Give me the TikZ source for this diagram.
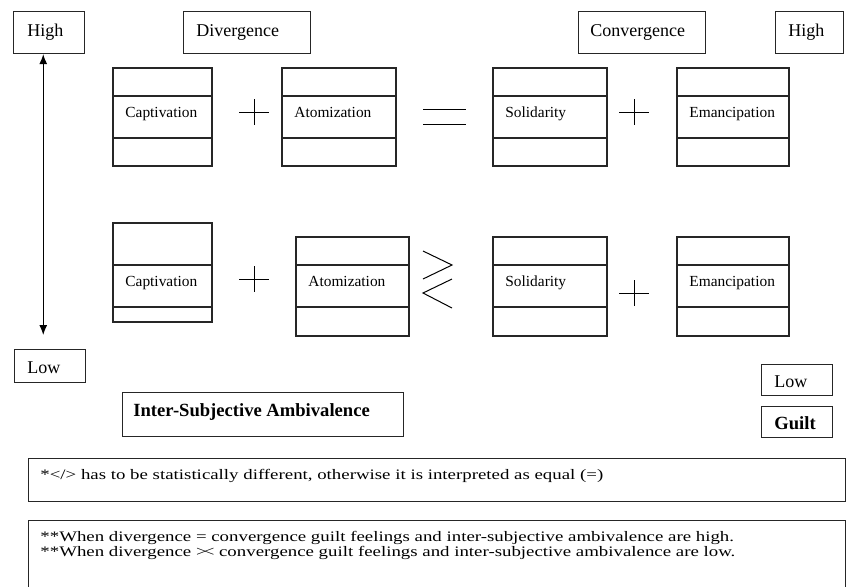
\documentclass[tikz,border=0pt]{standalone}
\usepackage{fontspec}
\setmainfont{Liberation Serif}
\newfontfamily\notefont[FakeStretch=1.3]{Liberation Serif}
\usetikzlibrary{arrows.meta}

% frame box with a text line inside: name, x1, y1, x2, y2, text x, baseline, style, text
\newcommand{\tagbox}[9]{%
  \node[frame, anchor=north west, minimum width={(#4-#2)*0.5pt}, minimum height={(#5-#3)*0.5pt}] (#1) at (#2,#3) {};
  \node[#8, anchor=base west] (#1-txt) at (#6,#7) {#9};
}
% three-part box: name, left, right, top, div1, div2, bottom, label
\newcommand{\cellbox}[8]{%
  \draw[frame] (#2,#4) rectangle (#3,#7);
  \draw[frame] (#2,#5) -- (#3,#5) (#2,#6) -- (#3,#6);
  \node[celltext, anchor=base west] (#1) at ({#2+12},{(#5+#6)/2}) {#8};
}
\newcommand{\plusmark}[2]{%
  \draw[sym] ({#1-15},#2) -- ({#1+15},#2) (#1,{#2-13}) -- (#1,{#2+13});
}

\begin{document}
\begin{tikzpicture}[x=0.5pt, y=-0.5pt,
    frame/.style={draw=black!85, line width=0.55pt, inner sep=0pt},
    lab/.style={inner sep=0pt, font=\fontsize{9}{11}\selectfont},
    labbf/.style={inner sep=0pt, font=\bfseries\fontsize{9.3}{11}\selectfont},
    celltext/.style={inner sep=0pt, font=\fontsize{7.7}{9}\selectfont},
    note/.style={inner sep=0pt, font=\notefont\fontsize{7.25}{7.5}\selectfont},
    sym/.style={line width=0.5pt},
    updown/.style={{Latex[length=5pt,width=4pt]}-{Latex[length=5pt,width=4pt]}, line width=0.6pt}]
  \useasboundingbox (0,0) rectangle (847,586);

  % top labels
  \tagbox{hiL}{13}{11}{84}{53}{27}{36}{lab}{High}
  \tagbox{div}{183}{11}{310}{53}{196}{36}{lab}{Divergence}
  \tagbox{conv}{578}{11}{705}{53}{590}{36}{lab}{Convergence}
  \tagbox{hiR}{775}{11}{843}{53}{788}{36}{lab}{High}

  % first row
  \cellbox{capA}{113}{212}{68}{96}{138}{166}{Captivation}
  \cellbox{atoA}{282}{396}{68}{96}{138}{166}{Atomization}
  \cellbox{solA}{493}{607}{68}{96}{138}{166}{Solidarity}
  \cellbox{emaA}{677}{789}{68}{96}{138}{166}{Emancipation}
  \plusmark{254}{112}
  \plusmark{634}{112}
  \draw[sym] (423,109) -- (466,109) (423,124) -- (466,124);

  % second row
  \cellbox{capB}{113}{212}{223}{265}{307}{322}{Captivation}
  \cellbox{atoB}{296}{409}{237}{265}{307}{336}{Atomization}
  \cellbox{solB}{493}{607}{237}{265}{307}{336}{Solidarity}
  \cellbox{emaB}{677}{789}{237}{265}{307}{336}{Emancipation}
  \plusmark{254}{279}
  \plusmark{634}{293}
  \draw[sym] (423,251) -- (452,265) -- (423,279);
  \draw[sym] (452,279) -- (423,293) -- (452,308);

  % scale and legend
  \tagbox{loL}{14}{349}{85}{382}{27}{373}{lab}{Low}
  \draw[updown] ([xshift=-2.9pt]hiL.south) -- ([xshift=-3.4pt,yshift=7pt]loL.north);
  \tagbox{isa}{122}{392}{403}{436}{133}{416}{labbf}{Inter-Subjective Ambivalence}
  \tagbox{loR}{761}{364}{832}{395}{774}{387}{lab}{Low}
  \tagbox{guilt}{761}{406}{832}{437}{774}{429}{labbf}{Guilt}

  % notes
  \tagbox{noteA}{28}{458}{845}{501}{40}{479}{note}{*</> has to be statistically different, otherwise it is interpreted as equal (=)}
  \tagbox{noteB}{28}{520}{845}{610}{40}{541}{note}{**When divergence = convergence guilt feelings and inter-subjective ambivalence are high.}
  \node[note, anchor=base west] (noteB-low) at (40,556) {**When divergence >\kern-0.2em< convergence guilt feelings and inter-subjective ambivalence are low.};
\end{tikzpicture}
\end{document}
